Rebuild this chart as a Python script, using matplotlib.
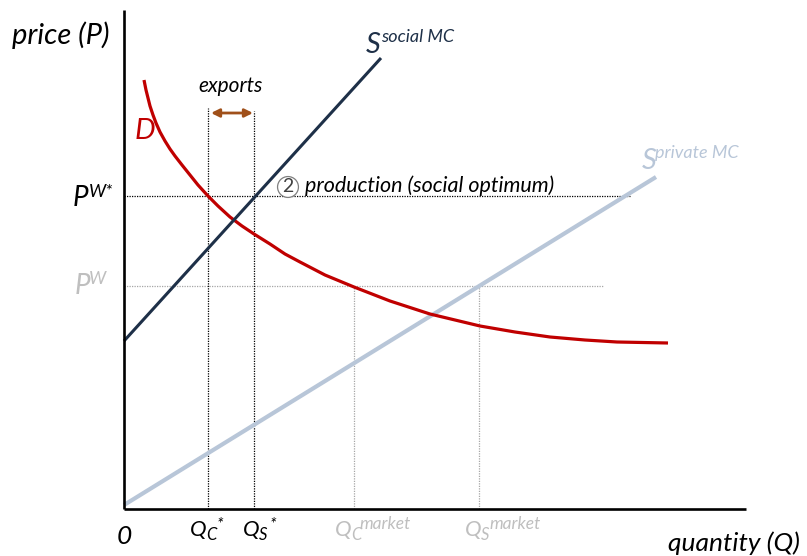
import matplotlib
matplotlib.use("Agg")
import matplotlib.pyplot as plt

plt.rcParams['font.family'] = ['Lato', 'DejaVu Sans']

# ---- data (economic units: quantity, price) ----
demand_q = [20, 22, 24, 26, 29, 32, 36, 41, 46, 51, 58, 66, 74, 84, 94, 106,
            118, 130, 146, 161, 176, 201, 230, 266, 306, 356, 391, 426, 461, 493, 544]
demand_p = [429, 419, 411, 403, 394, 386, 377, 368, 360, 353, 344, 334, 324, 313,
            303, 292, 283, 275, 265, 255, 247, 234, 222, 208, 195, 183, 177, 172,
            169, 167, 166]

s_social_q = [0, 257]
s_social_p = [168, 451]

s_private_q = [0, 532]
s_private_p = [4, 332]

p_world_star = 313
p_world = 223
q_c_star = 84
q_s_star = 130
q_c_market = 230
q_s_market = 355

# colours
NAVY = '#1E3048'
RED = '#C00000'
LIGHT = '#B8C6D8'
GRAYTXT = '#BFBFBF'
GRAYLINE = '#A6A6A6'
BROWN = '#A0501A'

fig = plt.figure(figsize=(8.07, 5.56), dpi=100)
ax = fig.add_axes([0, 0, 1, 1])
ax.set_xlim(-124, 683)
ax.set_ylim(-47, 509)
ax.axis('off')

# axes lines
ax.plot([0, 0], [0, 499], color='black', lw=1.9, solid_capstyle='butt', zorder=5)
ax.plot([0, 622], [0, 0], color='black', lw=1.9, solid_capstyle='butt', zorder=5)

# dotted guides
dot = dict(lw=0.9, linestyle=(0, (1, 1)))
ax.plot([0, 506], [p_world_star, p_world_star], color='black', **dot, zorder=1)
ax.plot([0, 479], [p_world, p_world], color=GRAYLINE, **dot, zorder=1)
ax.plot([q_c_star, q_c_star], [0, 401], color='black', **dot, zorder=1)
ax.plot([q_s_star, q_s_star], [0, 398], color='black', **dot, zorder=1)
ax.plot([q_c_market, q_c_market], [0, p_world], color=GRAYLINE, **dot, zorder=1)
ax.plot([q_s_market, q_s_market], [0, p_world], color=GRAYLINE, **dot, zorder=1)

# curves
ax.plot(s_private_q, s_private_p, color=LIGHT, lw=3.0, solid_capstyle='butt', zorder=2)
ax.plot(demand_q, demand_p, color=RED, lw=2.3, solid_capstyle='butt',
        solid_joinstyle='round', zorder=3)
ax.plot(s_social_q, s_social_p, color=NAVY, lw=2.2, solid_capstyle='butt', zorder=4)

# exports arrow
ax.annotate('', xy=(q_s_star - 1, 396), xytext=(q_c_star + 3, 396),
            arrowprops=dict(arrowstyle='<|-|>', color=BROWN, lw=2.0,
                            mutation_scale=12, shrinkA=0, shrinkB=0))
ax.text((q_c_star + q_s_star) / 2, 423, 'exports', fontsize=15, style='italic',
        ha='center', va='center')

IT = dict(style='italic')

# axis titles
ax.text(-112, 474, 'price (P)', fontsize=21, ha='left', va='center', **IT)
ax.text(676, -34, 'quantity (Q)', fontsize=19, ha='right', va='center', **IT)
ax.text(0, -28, '0', fontsize=19, ha='center', va='center', **IT)

# curve labels
ax.text(21, 378, 'D', fontsize=21, color=RED, ha='center', va='center', **IT)
ax.text(242, 464, 'S', fontsize=21, color=NAVY, ha='left', va='center', **IT)
ax.text(257, 472, 'social MC', fontsize=13, color=NAVY, ha='left', va='center', **IT)
ax.text(518, 348, 'S', fontsize=21, color=LIGHT, ha='left', va='center', **IT)
ax.text(531, 356, 'private MC', fontsize=13, color=LIGHT, ha='left', va='center', **IT)

# price labels
ax.text(-51, 311, 'P', fontsize=20, ha='left', va='center', **IT)
ax.text(-35, 317, 'W*', fontsize=13, ha='left', va='center', **IT)
ax.text(-49, 223, 'P', fontsize=20, color=GRAYTXT, ha='left', va='center', **IT)
ax.text(-35, 230, 'W', fontsize=13, color=GRAYTXT, ha='left', va='center', **IT)

# quantity labels
def qlabel(x0, sub, sup, color):
    ax.text(x0, -21, 'Q', fontsize=16, color=color, ha='left', va='center', **IT)
    ax.text(x0 + 16, -26, sub, fontsize=12, color=color, ha='left', va='center', **IT)
    if sup == '*':
        ax.text(x0 + 27, -15, sup, fontsize=12, color=color, ha='left', va='center', **IT)
    else:
        ax.text(x0 + 24, -15, sup, fontsize=12.5, color=color, ha='left', va='center', **IT)

qlabel(q_c_star - 18, 'C', '*', 'black')
qlabel(q_s_star - 11, 'S', '*', 'black')
qlabel(q_c_market - 19, 'C', 'market', GRAYTXT)
qlabel(q_s_market - 14, 'S', 'market', GRAYTXT)

# circled 2 + production
ax.text(164, 322, '2', fontsize=14, ha='center', va='center', color='#404040',
        bbox=dict(boxstyle='circle,pad=0.1', fc='white', ec='#7F7F7F', lw=0.9),
        zorder=6)
ax.text(181, 323, 'production (social optimum)', fontsize=15.5, ha='left',
        va='center', **IT)

fig.savefig('out.png', dpi=100)
